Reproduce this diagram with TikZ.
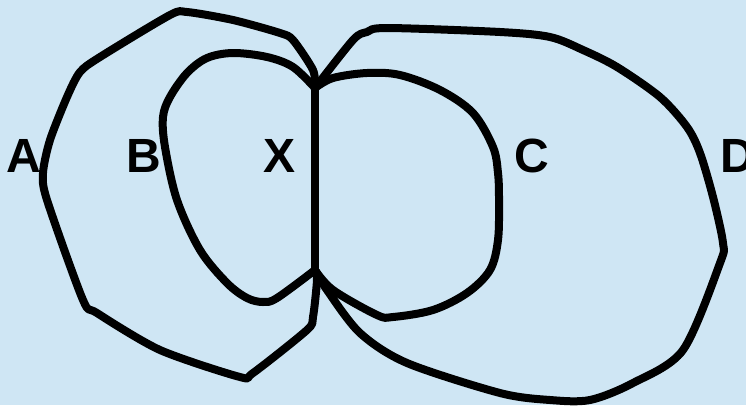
\documentclass[tikz,border=0pt]{standalone}
\usepackage{fontspec}
\setmainfont{Liberation Sans}
\definecolor{bgblue}{RGB}{207,230,244}
\begin{document}
\begin{tikzpicture}[x=1pt,y=-1pt,
  curve/.style={line width=8pt,line cap=round,line join=round,black},
  lbl/.style={font=\fontsize{48}{48}\selectfont\bfseries,inner sep=0pt,anchor=base}]
\useasboundingbox (0,0) rectangle (746,405);
\fill[bgblue] (0,0) rectangle (746,405);
\coordinate (top) at (315,88);
\coordinate (bot) at (315,270);
% vertical line X
\draw[curve] (top) -- (bot);
% A
\draw[curve] plot[smooth,tension=0.45] coordinates {(top) (313,70) (293,40) (280,33) (233,20) (187,12) (170,15) (100,57) (80,72) (67,97) (50,140) (43,173) (47,200) (83,300) (97,313) (160,350) (240,377) (253,373) (307,330) (313,317) (317,280) (bot)};
% B
\draw[curve] plot[smooth,tension=0.55] coordinates {(top) (293,67) (267,57) (233,53) (207,58) (187,73) (170,97) (163,117) (165,147) (177,200) (200,250) (227,283) (247,298) (263,302) (277,298) (bot)};
% C
\draw[curve] plot[smooth,tension=0.55] coordinates {(top) (333,78) (367,73) (400,75) (440,90) (473,113) (493,147) (498,173) (499,200) (498,240) (490,270) (467,293) (433,310) (393,317) (377,315) (333,290) (bot)};
% D
\draw[curve] plot[smooth,tension=0.5] coordinates {(top) (353,40) (367,32) (387,28) (500,32) (550,37) (583,50) (617,67) (660,97) (687,127) (700,153) (713,197) (723,243) (720,263) (683,350) (633,383) (590,400) (550,400) (500,393) (407,363) (360,333) (327,290) (bot)};
% labels
\node[lbl] (la) at (24,172) {A};
\node[lbl] (lb) at (144,172) {B};
\node[lbl] (lx) at (280,172) {X};
\node[lbl] (lc) at (532,172) {C};
\node[lbl] (ld) at (738,172) {D};
\end{tikzpicture}
\end{document}
